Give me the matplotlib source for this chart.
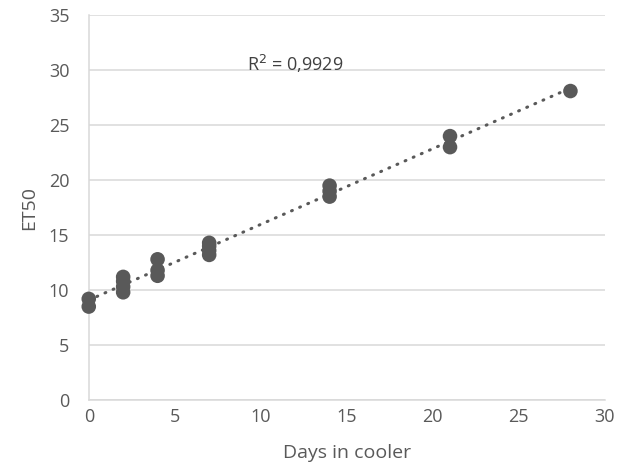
import numpy as np
import matplotlib
matplotlib.use("Agg")
import matplotlib.pyplot as plt

plt.rcParams["font.family"] = ["Open Sans", "DejaVu Sans"]

days = [0, 0, 2, 2, 2, 2, 4, 4, 4, 7, 7, 7, 7, 14, 14, 14, 21, 21, 28]
et50 = [8.5, 9.2, 9.8, 10.3, 10.8, 11.2, 11.3, 11.8, 12.8,
        13.2, 13.6, 14.0, 14.3, 18.5, 19.0, 19.5, 23.0, 24.0, 28.1]
r2_label = "R$^2$ = 0,9929"

grey = "#595959"
fig = plt.figure(figsize=(6.34, 4.74), dpi=100)
ax = fig.add_axes([0.140, 0.156, 0.814, 0.812])

ax.scatter(days, et50, s=110, color=grey, zorder=3, edgecolors="none", clip_on=False)

# linear trendline
k, b = np.polyfit(days, et50, 1)
xs = np.array([min(days), max(days)])
ax.plot(xs, k * xs + b, color=grey, linestyle=(0, (0.3, 2.6)), linewidth=2.2,
        dash_capstyle="round", zorder=4, clip_on=False)

ax.text(9.2, 30.6, r2_label, fontsize=13, color="#404040", va="center")

ax.set_xlim(0, 30)
ax.set_ylim(0, 35)
ax.set_xticks(range(0, 31, 5))
ax.set_yticks(range(0, 36, 5))
ax.yaxis.grid(True, color="#d9d9d9", linewidth=1.1)
ax.set_axisbelow(True)
for s in ["top", "right"]:
    ax.spines[s].set_visible(False)
for s in ["left", "bottom"]:
    ax.spines[s].set_color("#d9d9d9")
    ax.spines[s].set_linewidth(1.1)
ax.tick_params(axis="x", length=0, labelsize=13, labelcolor="#595959", pad=6)
ax.tick_params(axis="y", length=0, labelsize=13, labelcolor="#595959", pad=14)
ax.set_xlabel("Days in cooler", fontsize=14, color="#595959", labelpad=13)
ax.set_ylabel("ET50", fontsize=14, color="#595959", labelpad=8)

fig.savefig("out.png", dpi=100)
